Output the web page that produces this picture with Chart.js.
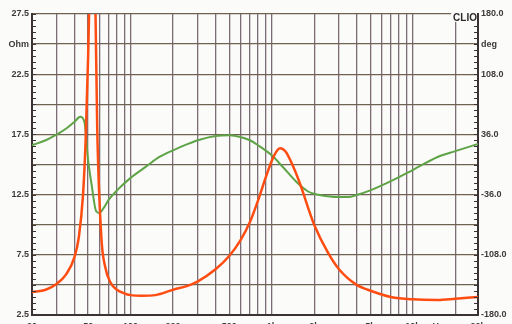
<!DOCTYPE html>
<html>
<head>
<meta charset="utf-8">
<script src="https://cdn.jsdelivr.net/npm/chart.js@4/dist/chart.umd.min.js"></script>
<style>
  html, body { margin: 0; padding: 0; background: #fbfbfa; overflow: hidden; width: 512px; height: 324px; }
  #wrap { width: 512px; height: 336px; }
</style>
</head>
<body>
<div id="wrap"><canvas id="clioChart" width="512" height="336"></canvas></div>
<script>
// frequency axis (Hz)
const freqMin = 20;
const freqMax = 29000;
const freqGrid = [20, 30, 40, 50, 60, 70, 80, 90, 100, 200, 300, 400, 500, 600, 700, 800, 900,
  1000, 2000, 3000, 4000, 5000, 6000, 7000, 8000, 9000, 10000, 20000];
const freqLabels = { 20: '20', 50: '50', 100: '100', 200: '200', 500: '500', 1000: '1k', 2000: '2k',
  5000: '5k', 10000: '10k', 15100: 'Hz', 29000: '20k' };

// left axis (Ohm)
const ohmTicks = [2.5, 5, 7.5, 10, 12.5, 15, 17.5, 20, 22.5, 25, 27.5];
const ohmLabels = { 2.5: '2.5', 7.5: '7.5', 12.5: '12.5', 17.5: '17.5', 22.5: '22.5', 25: 'Ohm', 27.5: '27.5' };

// right axis (deg)
const degTicks = [-180, -144, -108, -72, -36, 0, 36, 72, 108, 144, 180];
const degLabels = { '-180': '-180.0', '-108': '-108.0', '-36': '-36.0', 36: '36.0', 108: '108.0', 144: 'deg', 180: '180.0' };

// impedance magnitude (orange)
const impFreq = [20, 25, 30, 35, 40, 43, 46, 48, 50, 52, 54, 56, 58, 62, 66, 72, 80, 90, 100, 120, 150,
  200, 250, 300, 400, 500, 600, 700, 800, 900, 1000, 1100, 1150, 1250, 1400, 1600, 1800, 2000, 2500,
  3000, 4000, 4800, 7000, 10000, 15000, 20000, 29000];
const impOhm = [4.4, 4.6, 5.1, 5.9, 7.3, 9.0, 12.5, 17, 24, 33, 38, 30, 18, 9, 6.5, 5.2, 4.6, 4.3, 4.15, 4.1, 4.15,
  4.6, 4.9, 5.3, 6.3, 7.4, 8.7, 10.2, 12.0, 13.8, 15.3, 16.2, 16.35, 16.1, 15.0, 13.3, 11.5, 10.0, 7.7,
  6.3, 5.0, 4.6, 4.0, 3.8, 3.75, 3.85, 4.0];

// impedance phase (green)
const phaseFreq = [20, 25, 30, 35, 40, 44, 47, 50, 53, 57, 60, 65, 70, 80, 100, 130, 160, 200, 250, 300,
  400, 500, 600, 700, 800, 1000, 1200, 1500, 1800, 2000, 2500, 3000, 3500, 4000, 5000, 7000, 10000,
  15000, 20000, 29000];
const phaseDeg = [23, 29, 36, 43, 51, 57, 51, 5, -25, -56, -58, -51, -42, -31, -16, -2, 9, 17, 24, 29,
  34, 35, 33, 29, 23, 11, -3, -21, -32, -35, -38, -39, -39, -36.5, -31, -20, -6.6,
  9, 16, 24.5];

const toPoints = (xs, ys) => xs.map((x, i) => ({ x: x, y: ys[i] }));

const tickFont = { family: 'Liberation Sans, Arial, sans-serif', size: 9, weight: 'bold' };
const gridV = '#7b6c76';
const gridH = '#6f6250';

// small inward ticks on both side axes + CLIO mark
const clioDecor = {
  id: 'clioDecor',
  afterDraw(chart) {
    const c = chart.ctx;
    const a = chart.chartArea;
    const yl = chart.scales.y;
    const yr = chart.scales.y2;
    c.save();
    c.strokeStyle = '#3b3333';
    c.lineWidth = 1;
    c.beginPath();
    for (let v = 2.5; v <= 27.5; v += 0.5) {
      const py = Math.round(yl.getPixelForValue(v)) + 0.5;
      c.moveTo(a.left, py); c.lineTo(a.left + 4, py);
    }
    for (let v = -180; v <= 180; v += 7.2) {
      const py = Math.round(yr.getPixelForValue(v)) + 0.5;
      c.moveTo(a.right, py); c.lineTo(a.right - 4, py);
    }
    c.stroke();
    c.font = 'bold 10px Liberation Sans, Arial, sans-serif';
    const w = c.measureText('CLIO').width;
    c.fillStyle = '#fbfbfa';
    c.fillRect(a.right - w - 3, a.top - 2, w + 2, 10);
    c.fillStyle = '#2e2a2a';
    c.textAlign = 'right';
    c.textBaseline = 'top';
    c.fillText('CLIO', a.right - 1, a.top - 1);
    c.restore();
  }
};

new Chart(document.getElementById('clioChart'), {
  type: 'line',
  data: {
    datasets: [
      {
        label: 'Impedance',
        data: toPoints(impFreq, impOhm),
        yAxisID: 'y',
        borderColor: '#ff4d12',
        borderWidth: 2.5,
        pointRadius: 0,
        cubicInterpolationMode: 'monotone',
        fill: false
      },
      {
        label: 'Phase',
        data: toPoints(phaseFreq, phaseDeg),
        yAxisID: 'y2',
        borderColor: '#5ea447',
        borderWidth: 2,
        pointRadius: 0,
        cubicInterpolationMode: 'monotone',
        fill: false
      }
    ]
  },
  options: {
    responsive: false,
    animation: false,
    layout: { padding: { top: 14, left: 0, right: 0, bottom: 0 } },
    plugins: { legend: { display: false }, tooltip: { enabled: false } },
    scales: {
      x: {
        type: 'logarithmic',
        min: freqMin,
        max: freqMax,
        afterBuildTicks: (s) => { s.ticks = freqGrid.concat([15100, freqMax]).map(v => ({ value: v })); },
        afterFit: (s) => { s.height = 21; },
        ticks: {
          autoSkip: false, maxRotation: 0, padding: 6, color: '#3f3a3a', font: tickFont,
          callback: (v) => freqLabels[v] || ''
        },
        grid: {
          color: (ctx) => (ctx.tick && (ctx.tick.value === 15100 || ctx.tick.value === freqMax)) ? 'rgba(0,0,0,0)' : gridV,
          lineWidth: 1.3,
          drawTicks: false
        },
        border: { color: '#3b3333', width: 2 }
      },
      y: {
        position: 'left',
        min: 2.5,
        max: 27.5,
        afterBuildTicks: (s) => { s.ticks = ohmTicks.map(v => ({ value: v })); },
        afterFit: (s) => { s.width = 32; },
        ticks: {
          padding: 3, color: '#3f3a3a', font: tickFont,
          callback: (v) => ohmLabels[v] || ''
        },
        grid: { color: gridH, lineWidth: 1.3, drawTicks: false },
        border: { color: '#3b3333', width: 2 }
      },
      y2: {
        position: 'right',
        min: -180,
        max: 180,
        afterBuildTicks: (s) => { s.ticks = degTicks.map(v => ({ value: v })); },
        afterFit: (s) => { s.width = 34; },
        ticks: {
          padding: 3, color: '#3f3a3a', font: tickFont,
          callback: (v) => degLabels[v] || ''
        },
        grid: { drawOnChartArea: false, drawTicks: false },
        border: { color: '#3b3333', width: 2 }
      }
    }
  },
  plugins: [clioDecor]
});
</script>
</body>
</html>
